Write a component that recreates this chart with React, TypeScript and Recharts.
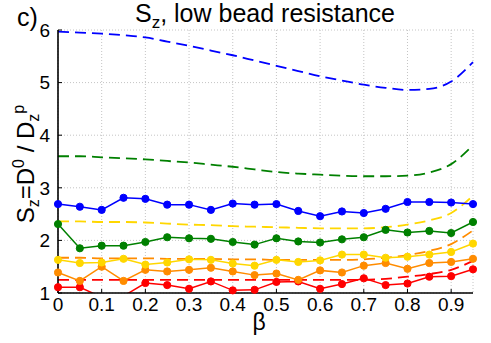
import React from "react";
import { LineChart, Line, XAxis, YAxis, CartesianGrid } from "recharts";

// beta values of the simulation points
const beta = [0, 0.05, 0.1, 0.15, 0.2, 0.25, 0.3, 0.35, 0.4, 0.45, 0.5, 0.55, 0.6, 0.65, 0.7, 0.75, 0.8, 0.85, 0.9, 0.95];

// measured S_z (solid lines with markers)
const blueSim = [2.69, 2.64, 2.58, 2.81, 2.79, 2.68, 2.68, 2.58, 2.7, 2.68, 2.69, 2.56, 2.46, 2.55, 2.52, 2.6, 2.73, 2.73, 2.72, 2.69];
const greenSim = [2.31, 1.85, 1.9, 1.9, 1.97, 2.06, 2.04, 2.03, 1.97, 1.92, 2.04, 1.98, 1.96, 2.02, 2.06, 2.2, 2.15, 2.18, 2.14, 2.35];
const goldSim = [1.63, 1.57, 1.58, 1.65, 1.54, 1.58, 1.64, 1.63, 1.56, 1.52, 1.63, 1.59, 1.62, 1.73, 1.73, 1.67, 1.69, 1.73, 1.78, 1.94];
const orangeSim = [1.39, 1.23, 1.5, 1.23, 1.44, 1.41, 1.44, 1.48, 1.41, 1.34, 1.37, 1.25, 1.43, 1.39, 1.52, 1.57, 1.46, 1.57, 1.59, 1.65];
const redSim = [1.11, 1.11, 0.92, 0.94, 1.19, 1.15, 1.08, 1.22, 1.05, 1.06, 1.21, 1.22, 1.08, 1.17, 1.28, 1.15, 1.18, 1.31, 1.32, 1.45];

// theory curves (dashed)
const blueTheory = [5.97, 5.95, 5.93, 5.9, 5.86, 5.78, 5.7, 5.61, 5.52, 5.42, 5.32, 5.22, 5.12, 5.04, 4.96, 4.9, 4.86, 4.88, 5.02, 5.39];
const greenTheory = [3.6, 3.6, 3.58, 3.56, 3.54, 3.51, 3.48, 3.44, 3.4, 3.35, 3.3, 3.27, 3.25, 3.23, 3.22, 3.22, 3.23, 3.29, 3.45, 3.81];
const goldTheory = [2.36, 2.36, 2.35, 2.35, 2.34, 2.32, 2.3, 2.29, 2.27, 2.26, 2.25, 2.24, 2.23, 2.23, 2.23, 2.25, 2.3, 2.38, 2.52, 2.85];
const orangeTheory = [1.67, 1.67, 1.66, 1.66, 1.66, 1.65, 1.65, 1.65, 1.64, 1.64, 1.63, 1.63, 1.63, 1.63, 1.64, 1.67, 1.72, 1.8, 1.93, 2.19];
const redTheory = [1.25, 1.25, 1.25, 1.25, 1.25, 1.25, 1.25, 1.25, 1.25, 1.25, 1.25, 1.25, 1.25, 1.25, 1.25, 1.27, 1.31, 1.36, 1.44, 1.61];

const xTicks = [0, 0.1, 0.2, 0.3, 0.4, 0.5, 0.6, 0.7, 0.8, 0.9];
const yTicks = [1, 2, 3, 4, 5, 6];

const data = beta.map((b, i) => ({
  beta: b,
  blue: blueSim[i],
  green: greenSim[i],
  gold: goldSim[i],
  orange: orangeSim[i],
  red: redSim[i],
  blueT: blueTheory[i],
  greenT: greenTheory[i],
  goldT: goldTheory[i],
  orangeT: orangeTheory[i],
  redT: redTheory[i],
}));

const COLORS: Record<string, string> = {
  blue: "#0000ff",
  green: "#008000",
  gold: "#ffd700",
  orange: "#ff8c00",
  red: "#ff0000",
};

const FONT = "'Liberation Sans', Arial, Helvetica, sans-serif";
const W = 491;
const H = 343;

const markerDot = (c: string) => ({ r: 3.6, fill: c, stroke: c, strokeWidth: 1, clipDot: false });

export default function App() {
  const frame = { stroke: "#000", strokeWidth: 1.6 };
  return (
    <div style={{ position: "absolute", left: 0, top: 0, width: W, height: H, background: "#fff", fontFamily: FONT }}>
      <LineChart width={W} height={H} data={data} margin={{ top: 30, right: 18, bottom: 20, left: 18 }}>
        <CartesianGrid stroke="#c4c4c4" strokeDasharray="1 2" />
        <XAxis
          type="number"
          dataKey="beta"
          domain={[0, 0.95]}
          ticks={xTicks}
          interval={0}
          height={30}
          axisLine={frame}
          tickLine={{ stroke: "#000" }}
          tickSize={-4}
          tickMargin={9}
          tick={{ fill: "#000", fontSize: 19, fontFamily: FONT }}
        />
        <XAxis
          xAxisId="top"
          orientation="top"
          type="number"
          dataKey="beta"
          domain={[0, 0.95]}
          ticks={xTicks}
          interval={0}
          height={0}
          axisLine={frame}
          tickLine={{ stroke: "#000" }}
          tickSize={-4}
          tick={false}
        />
        <YAxis
          type="number"
          domain={[1, 6]}
          ticks={yTicks}
          interval={0}
          allowDataOverflow
          width={40}
          axisLine={frame}
          tickLine={{ stroke: "#000" }}
          tickSize={-4}
          tickMargin={12}
          tick={{ fill: "#000", fontSize: 19, fontFamily: FONT }}
        />
        <YAxis
          yAxisId="right"
          orientation="right"
          type="number"
          domain={[1, 6]}
          ticks={yTicks}
          interval={0}
          allowDataOverflow
          width={0}
          axisLine={frame}
          tickLine={{ stroke: "#000" }}
          tickSize={-4}
          tick={false}
        />

        {/* theory, dashed */}
        {["blue", "green", "gold", "orange", "red"].map((k) => (
          <Line
            key={k + "T"}
            type="monotone"
            dataKey={k + "T"}
            stroke={COLORS[k]}
            strokeWidth={1.8}
            strokeDasharray="11 6"
            dot={false}
            isAnimationActive={false}
          />
        ))}

        {/* simulation, solid with markers */}
        <Line type="linear" dataKey="red" stroke={COLORS.red} strokeWidth={1.5} dot={false} isAnimationActive={false} />
        <Line
          type="linear"
          dataKey={(d: any) => (d.red >= 1 ? d.red : null)}
          stroke="none"
          dot={markerDot(COLORS.red)}
          isAnimationActive={false}
        />
        {["orange", "gold", "green", "blue"].map((k) => (
          <Line
            key={k}
            type="linear"
            dataKey={k}
            stroke={COLORS[k]}
            strokeWidth={1.5}
            dot={markerDot(COLORS[k])}
            isAnimationActive={false}
          />
        ))}
      </LineChart>

      <svg width={W} height={H} style={{ position: "absolute", left: 0, top: 0, pointerEvents: "none" }} fontFamily={FONT}>
        <text x={17} y={26} fontSize={25} fill="#000">c)</text>
        <text x={265} y={22} fontSize={25} fill="#000" textAnchor="middle">
          S<tspan dy={6} fontSize={17}>z</tspan><tspan dy={-6}>, low bead resistance</tspan>
        </text>
        <text transform="translate(34,164) rotate(-90)" fontSize={24} fill="#000" textAnchor="middle">
          S<tspan dy={5} fontSize={16}>z</tspan>
          <tspan dy={-5}>=D</tspan>
          <tspan dy={-10} fontSize={16}>0</tspan>
          <tspan dy={10}> / D</tspan>
          <tspan dy={5} fontSize={16}>z</tspan>
          <tspan dy={-15} fontSize={16}>p</tspan>
        </text>
        <text x={259} y={330} fontSize={23} fill="#000" textAnchor="middle">β</text>
      </svg>
    </div>
  );
}
